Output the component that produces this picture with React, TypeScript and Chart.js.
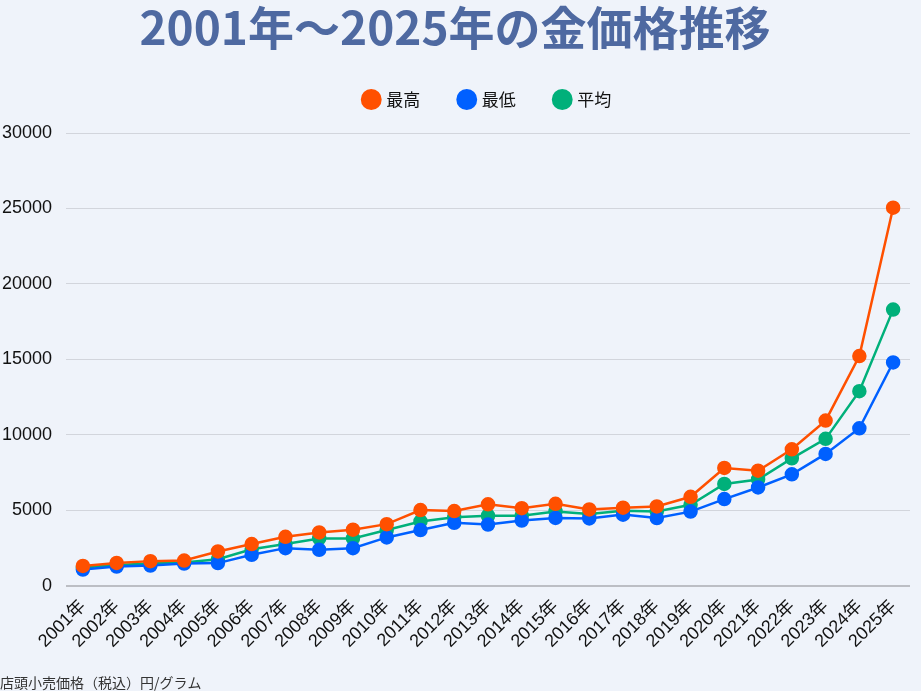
import React, { useEffect, useRef } from "react";
import { Chart, registerables } from "chart.js";

Chart.register(...registerables);

const years: string[] = [
  "2001年", "2002年", "2003年", "2004年", "2005年", "2006年", "2007年", "2008年", "2009年", "2010年",
  "2011年", "2012年", "2013年", "2014年", "2015年", "2016年", "2017年", "2018年", "2019年", "2020年",
  "2021年", "2022年", "2023年", "2024年", "2025年",
];

const maxPrices: number[] = [
  1320, 1520, 1640, 1680, 2280, 2770, 3250, 3540, 3720, 4090,
  5020, 4960, 5400, 5150, 5440, 5060, 5180, 5260, 5900, 7810,
  7630, 9050, 10950, 15220, 25050,
];

const minPrices: number[] = [
  1080, 1280, 1350, 1480, 1510, 2060, 2500, 2390, 2500, 3210,
  3700, 4180, 4060, 4330, 4500, 4470, 4720, 4490, 4920, 5750,
  6520, 7390, 8740, 10440, 14800,
];

const avgPrices: number[] = [
  1210, 1390, 1480, 1550, 1770, 2430, 2780, 3140, 3140, 3700,
  4270, 4540, 4650, 4650, 4930, 4760, 4980, 4930, 5370, 6750,
  7050, 8450, 9740, 12900, 18300,
];

const yTicks: number[] = [0, 5000, 10000, 15000, 20000, 25000, 30000];

const titleText = "2001年～2025年の金価格推移";
const unitText = "店頭小売価格（税込）円/グラム";
const seriesNames: string[] = ["最高", "最低", "平均"];
const seriesColors: string[] = ["#ff5000", "#0060ff", "#00b07a"];

const FONT = "'Liberation Sans', 'Noto Sans CJK JP', sans-serif";

export default function App() {
  const ref = useRef<HTMLCanvasElement | null>(null);

  useEffect(() => {
    if (!ref.current) return;
    const seriesData = [maxPrices, minPrices, avgPrices];
    const chart = new Chart(ref.current, {
      type: "line",
      data: {
        labels: years,
        datasets: seriesNames.map((name, i) => ({
          label: name,
          data: seriesData[i],
          borderColor: seriesColors[i],
          backgroundColor: seriesColors[i],
          pointBackgroundColor: seriesColors[i],
          pointBorderColor: seriesColors[i],
          borderWidth: 2.5,
          pointRadius: 6,
          pointHoverRadius: 6,
          tension: 0,
          fill: false,
        })),
      },
      options: {
        animation: false,
        responsive: false,
        maintainAspectRatio: false,
        layout: { padding: { left: 0, right: 11, top: 0, bottom: 0 } },
        plugins: {
          title: {
            display: true,
            text: titleText,
            color: "#4e69a1",
            font: { family: "'Noto Sans CJK JP', sans-serif", size: 46, weight: "bold", lineHeight: 1 },
            padding: { top: 5, bottom: 0 },
          },
          subtitle: {
            display: true,
            text: unitText,
            position: "bottom",
            align: "start",
            color: "#333333",
            font: { family: "'Noto Sans CJK JP', sans-serif", size: 14, weight: "normal" },
            padding: { top: 12, bottom: 0 },
          },
          legend: {
            display: true,
            position: "top",
            fullSize: false,
            labels: {
              usePointStyle: true,
              pointStyle: "circle",
              boxWidth: 13,
              boxHeight: 13,
              padding: 40,
              color: "#111111",
              font: { family: "'Noto Sans CJK JP', sans-serif", size: 17 },
            },
          },
          tooltip: { enabled: false },
        },
        scales: {
          x: {
            offset: true,
            grid: { display: false, drawTicks: false },
            border: { display: false },
            afterFit: (axis: any) => {
              axis.paddingLeft = 0;
              axis.paddingRight = 0;
            },
            ticks: {
              autoSkip: false,
              maxRotation: 45,
              minRotation: 45,
              color: "#111111",
              padding: 10,
              font: { family: FONT, size: 18 },
            },
          },
          y: {
            min: 0,
            max: 30000,
            afterBuildTicks: (axis: any) => {
              axis.ticks = yTicks.map((v) => ({ value: v }));
            },
            afterFit: (axis: any) => {
              axis.width = 66;
            },
            grid: { color: "#d2d5dc", lineWidth: 1, drawTicks: false },
            border: { display: false },
            ticks: {
              color: "#111111",
              padding: 14,
              font: { family: FONT, size: 18 },
              callback: (v: any) => String(v),
            },
          },
        },
      },
      plugins: [
        {
          id: "legendGap",
          beforeLayout(c: any) {
            const lg = c.legend;
            if (lg && !lg.__gapPatched) {
              const origFit = lg.fit.bind(lg);
              lg.fit = function () {
                origFit();
                this.height += 15;
              };
              lg.__gapPatched = true;
            }
          },
        } as any,
        {
          id: "baseline",
          beforeDatasetsDraw(c: any) {
            const { ctx, chartArea, scales } = c;
            const y = scales.y.getPixelForValue(0);
            ctx.save();
            ctx.strokeStyle = "#bcbec4";
            ctx.lineWidth = 2;
            ctx.beginPath();
            ctx.moveTo(chartArea.left, y);
            ctx.lineTo(chartArea.right, y);
            ctx.stroke();
            ctx.restore();
          },
        } as any,
      ],
    });
    return () => chart.destroy();
  }, []);

  return (
    <div
      style={{
        position: "fixed",
        left: 0,
        top: 0,
        width: 921,
        height: 691,
        background: "#eff3fa",
        overflow: "hidden",
      }}
    >
      <canvas ref={ref} width={921} height={691} style={{ display: "block", width: 921, height: 691 }} />
    </div>
  );
}
